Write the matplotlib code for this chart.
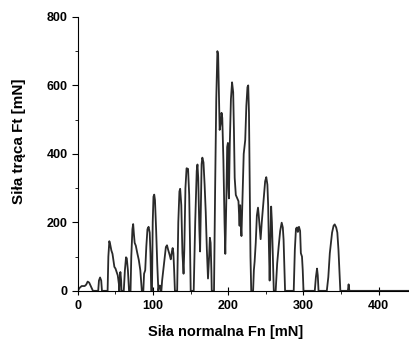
import numpy as np, matplotlib; matplotlib.use("Agg")
import matplotlib.pyplot as plt
from matplotlib.ticker import MultipleLocator

# friction force Ft vs normal force Fn
fn = [0, 2, 5, 9, 11, 13, 15, 18, 20,
      27, 28, 29.5, 31, 32,
      39.5, 40.5, 41.8, 43, 44.5, 46, 47.5, 48.5, 50, 51.5, 53, 54.5, 55, 55.8, 56.5, 57.5, 58,
      61, 62.5, 64, 65, 66.5, 68,
      70, 71, 72.5, 73.5, 74.5, 75.5, 77, 79, 81, 83, 85,
      87, 88, 89.5, 91, 92.5, 94, 95.5, 96.5, 97.5,
      98.5, 99.5, 100.5, 101.5, 102.5, 104, 105.5, 107, 108, 109.5, 110.5,
      111, 112, 113.5, 115.5, 117, 118.5, 120, 122, 123.5, 125, 126, 127, 128, 129,
      132, 133.5, 135, 136, 137.5, 139, 140.5, 141.5, 143, 144.5, 146.5, 148, 149, 150,
      154, 156, 158, 159, 160, 161.5, 162.5, 163.5, 164.5, 165.5, 167, 168.5, 170, 171.5,
      173, 174.5, 175.5, 176.5, 177.5, 178,
      181, 182.5, 184, 185.5, 186.5, 187.5, 188.5, 190, 191, 192, 193.5, 195, 196, 197.5,
      198.5, 199.5, 200.2, 200.8, 202, 203.5, 205, 206.5, 207.5, 208.5, 210, 212, 213.5,
      214.5, 215, 215.8, 216.5, 217.5, 219, 220.5, 221.5, 222.5, 224, 225.5, 226.5, 227.5,
      228.5, 229.5, 230.5,
      233, 234, 235, 236.5, 238, 239.5, 240.5, 242, 243, 244.5, 246, 247.5, 249, 250.5, 252,
      253, 254, 255, 256, 257, 258, 259.5, 260.5,
      263, 265, 267, 269, 271, 272.5, 273.5, 274.5, 275.5,
      287, 288.5, 290, 291.5, 292.5, 294, 295.5, 296.5, 298, 299, 300,
      315, 316.5, 318, 319, 320,
      331, 333, 335, 336.5, 338, 340, 341.5, 343.5, 345, 346.5, 348, 349,
      359, 360, 361, 440]
ft = [0, 8, 14, 14, 18, 27, 24, 10, 0,
      0, 30, 39, 30, 0,
      0, 100, 145, 135, 118, 108, 85, 70, 65, 55, 45, 20, 0, 40, 55, 30, 0,
      0, 60, 98, 95, 60, 0,
      0, 100, 180, 195, 165, 140, 132, 110, 90, 60, 0,
      0, 50, 60, 130, 180, 187, 170, 110, 0,
      0, 200, 275, 281, 265, 180, 80, 0, 15, 15, 0,
      0, 30, 60, 100, 128, 133, 120, 105, 92, 115, 125, 110, 60, 0,
      0, 200, 290, 298, 250, 110, 50, 120, 300, 358, 356, 280, 150, 0,
      0, 200, 350, 369, 330, 180, 115, 250, 370, 389, 375, 310, 230, 120,
      36, 100, 155, 140, 60, 0,
      0, 300, 560, 700, 690, 580, 470, 490, 520, 505, 380, 200, 108, 280,
      420, 432, 300, 270, 430, 560, 609, 580, 470, 330, 280, 270, 262,
      210, 190, 250, 200, 160, 280, 400, 420, 440, 540, 595, 600, 520,
      300, 100, 0,
      0, 60, 85, 140, 220, 243, 220, 180, 151, 200, 240, 280, 320, 332, 310,
      250, 130, 30, 150, 246, 200, 80, 0,
      0, 80, 130, 175, 199, 185, 150, 80, 0,
      0, 120, 182, 185, 172, 187, 175, 110, 100, 60, 0,
      0, 40, 65, 45, 0,
      0, 40, 110, 140, 170, 190, 194, 185, 170, 120, 50, 0,
      0, 19, 0, 0]

plt.rcParams["font.family"] = ["Liberation Sans", "DejaVu Sans"]
plt.rcParams["font.weight"] = "bold"
fig = plt.figure(figsize=(4.1, 3.45), dpi=100)
ax = fig.add_axes([0.19, 0.157, 0.807, 0.794])
ax.plot(fn, ft, color="#2a2a2a", lw=1.3, solid_joinstyle="round")
ax.set_xlim(0, 440); ax.set_ylim(0, 800)
ax.spines[["top", "right"]].set_visible(False)
ax.xaxis.set_major_locator(MultipleLocator(100)); ax.xaxis.set_minor_locator(MultipleLocator(50))
ax.yaxis.set_major_locator(MultipleLocator(200)); ax.yaxis.set_minor_locator(MultipleLocator(100))
ax.tick_params(axis="x", which="major", direction="inout", length=6, labelsize=9)
ax.tick_params(axis="y", which="major", direction="out", length=4, labelsize=9)
ax.tick_params(which="minor", direction="out", length=2.5)
for t in ax.get_xticklabels() + ax.get_yticklabels(): t.set_fontweight("bold")
ax.set_xlabel("Siła normalna Fn [mN]", fontsize=10.5, fontweight="bold")
ax.set_ylabel("Siła trąca Ft [mN]", fontsize=11, fontweight="bold")
ax.xaxis.set_label_coords(0.447, -0.125)
ax.yaxis.set_label_coords(-0.157, 0.545)
fig.savefig("out.png", dpi=100)
